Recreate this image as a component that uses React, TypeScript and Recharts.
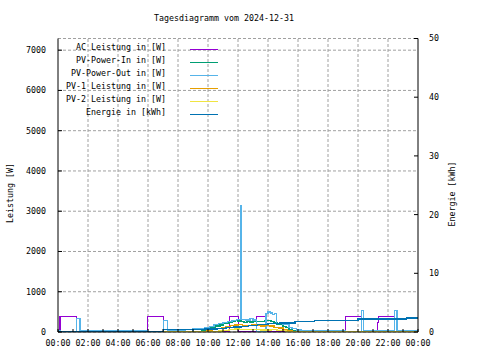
import { CartesianGrid, Legend, Line, LineChart, ReferenceLine, XAxis, YAxis } from "recharts";

const title = "Tagesdiagramm vom 2024-12-31";
const hourTicks = [0, 1, 2, 3, 4, 5, 6, 7, 8, 9, 10, 11, 12, 13, 14, 15, 16, 17, 18, 19, 20, 21, 22, 23, 24];
const gridHours = [2, 4, 6, 8, 10, 12, 14, 16, 18, 20, 22];
const wattTicks = [0, 1000, 2000, 3000, 4000, 5000, 6000, 7000];
const kwhTicks = [0, 10, 20, 30, 40, 50];

// [hour, W]
const acLeistung = [
  [0, 0], [0.13, 390], [1.24, 0], [5.97, 390], [7.02, 0], [9.75, 30], [9.85, 0],
  [11.42, 385], [12.03, 0], [13.25, 385], [13.87, 0], [19.18, 385], [20.22, 0],
  [21.29, 245], [21.35, 385], [22.45, 0], [24, 0],
];
const pvPowerIn = [
  [0, 0], [9.3, 15], [9.6, 40], [9.9, 70], [10.2, 105], [10.5, 150], [10.8, 175], [11.0, 205],
  [11.2, 215], [11.4, 240], [11.6, 265], [11.8, 290], [12.0, 275], [12.2, 255], [12.4, 245],
  [12.6, 260], [12.8, 250], [13.0, 275], [13.2, 270], [13.4, 255], [13.6, 270], [13.8, 285],
  [14.0, 290], [14.2, 255], [14.4, 225], [14.6, 200], [14.8, 180], [15.0, 140], [15.2, 110],
  [15.4, 70], [15.6, 40], [15.8, 15], [16.0, 0], [24, 0],
];
const pvPowerOut = [
  [0, 37], [0.13, 0], [1.24, 330], [1.47, 37], [5.97, 0], [7.02, 290], [7.29, 37], [8.47, 0],
  [9.0, 80], [9.8, 110], [10.1, 140], [10.4, 180], [10.7, 210], [11.0, 235], [11.3, 260],
  [11.6, 290], [11.9, 310], [12.18, 3130], [12.25, 320], [12.5, 300], [12.8, 330], [13.0, 300],
  [13.25, 0], [13.87, 450], [14.0, 495], [14.15, 470], [14.3, 430], [14.45, 460], [14.58, 205],
  [14.8, 220], [15.0, 190], [15.2, 200], [15.4, 120], [15.6, 80], [15.9, 50], [16.24, 37],
  [19.18, 0], [20.22, 536], [20.38, 37], [22.42, 536], [22.6, 37], [24, 37],
];
const pv1Leistung = [
  [0, 0], [9.5, 10], [9.9, 30], [10.3, 55], [10.6, 80], [10.9, 105], [11.2, 125], [11.5, 160],
  [11.8, 175], [12.0, 190], [12.3, 170], [12.6, 160], [12.9, 180], [13.2, 165], [13.5, 150],
  [13.8, 160], [14.1, 150], [14.4, 120], [14.7, 100], [15.0, 60], [15.3, 35], [15.6, 12],
  [15.9, 0], [24, 0],
];
const pv2Leistung = [
  [0, 0], [10.3, 10], [10.7, 25], [11.0, 40], [11.4, 55], [11.8, 75], [12.1, 60], [12.5, 55],
  [13.5, 50], [14.2, 55], [14.6, 45], [14.9, 30], [15.2, 15], [15.6, 5], [15.8, 0], [24, 0],
];
// [hour, kWh]
const energie = [
  [0, 0], [3.1, 0.05], [7.02, 0.37], [9.8, 0.5], [10.6, 0.6], [11.2, 0.75], [11.7, 0.85],
  [12.2, 1.0], [12.7, 1.12], [13.3, 1.25], [14.0, 1.38], [14.8, 1.55], [15.8, 1.73],
  [17.1, 2.0], [20.0, 2.2], [23.25, 2.4], [24, 2.4],
];

const series = [
  { name: "AC Leistung in [W]", color: "#9400d3", points: acLeistung, axis: "left" },
  { name: "PV-Power-In in [W]", color: "#009e73", points: pvPowerIn, axis: "left" },
  { name: "PV-Power-Out in [W]", color: "#56b4e9", points: pvPowerOut, axis: "left" },
  { name: "PV-1 Leistung in [W]", color: "#e69f00", points: pv1Leistung, axis: "left" },
  { name: "PV-2 Leistung in [W]", color: "#f0e442", points: pv2Leistung, axis: "left" },
  { name: "Energie in [kWh]", color: "#0072b2", points: energie, axis: "right" },
];

const mono = "'DejaVu Sans Mono', monospace";
const fs = 8.3;
const tickStyle = { fill: "#000", fontSize: fs, fontFamily: mono };
const gridColor = "#a0a0a0";

const hourLabel = (h: number) => (h % 2 === 0 ? `${String(h % 24).padStart(2, "0")}:00` : "");

// gnuplot-style key: labels right aligned, sample line to the right
const renderLegend = () => (
  <div>
    {series.map((s) => (
      <div key={s.name} style={{ position: "relative", height: 13 }}>
        <span style={{ position: "absolute", right: 64, top: 0, lineHeight: "13px", whiteSpace: "nowrap" }}>{s.name}</span>
        <span style={{ position: "absolute", left: 130, top: 8, width: 28, height: 1, background: s.color }} />
      </div>
    ))}
  </div>
);

export default function App() {
  return (
    <div style={{ position: "absolute", left: 0, top: 0, width: 480, height: 360, background: "#fff", fontFamily: mono, fontSize: fs, color: "#000" }}>
      <div style={{ position: "absolute", top: 13, left: 0, width: 448, textAlign: "center", lineHeight: "10px" }}>{title}</div>
      <div style={{ position: "absolute", left: 10, top: 193, transform: "translate(-50%, -50%) rotate(-90deg)", whiteSpace: "nowrap" }}>
        Leistung [W]
      </div>
      <div style={{ position: "absolute", left: 452, top: 194, transform: "translate(-50%, -50%) rotate(-90deg)", whiteSpace: "nowrap" }}>
        Energie [kWh]
      </div>
      <LineChart width={480} height={360} margin={{ top: 38.5, right: 0, bottom: 0, left: 0 }}>
        <CartesianGrid yAxisId="left" vertical={false} stroke={gridColor} strokeDasharray="3 2" />
        {gridHours.map((h) => (
          <ReferenceLine key={h} x={h} xAxisId="bottom" yAxisId="left" stroke={gridColor} strokeDasharray="3 2" />
        ))}
        <XAxis
          xAxisId="bottom" dataKey="h" type="number" domain={[0, 24]} ticks={hourTicks} interval={0}
          allowDataOverflow height={28} tickFormatter={hourLabel} tick={tickStyle}
          stroke="#000" tickSize={-3} tickMargin={11}
        />
        <XAxis
          xAxisId="top" orientation="top" dataKey="h" type="number" domain={[0, 24]} ticks={hourTicks}
          interval={0} allowDataOverflow height={0} tickFormatter={() => ""} stroke="#000" tickSize={-3}
        />
        <YAxis
          yAxisId="left" type="number" domain={[0, 7290]} ticks={wattTicks} interval={0} allowDataOverflow
          width={58} tick={tickStyle} stroke="#000" tickSize={-4} tickMargin={16}
        />
        <YAxis
          yAxisId="right" orientation="right" type="number" domain={[0, 50]} ticks={kwhTicks} interval={0}
          allowDataOverflow width={62} tick={tickStyle} stroke="#000" tickSize={-4} tickMargin={15}
        />
        <Legend
          layout="vertical" align="center" verticalAlign="middle" content={renderLegend}
          wrapperStyle={{ position: "absolute", left: 60, top: 41, width: 170, height: "auto", fontFamily: mono, fontSize: fs }}
        />
        {series.map((s) => (
          <Line
            key={s.name}
            name={s.name}
            data={s.points.map(([h, v]) => ({ h, v }))}
            dataKey="v"
            xAxisId="bottom"
            yAxisId={s.axis}
            type="stepAfter"
            stroke={s.color}
            strokeWidth={1.2}
            shapeRendering="crispEdges"
            dot={false}
            activeDot={false}
            isAnimationActive={false}
          />
        ))}
      </LineChart>
    </div>
  );
}
